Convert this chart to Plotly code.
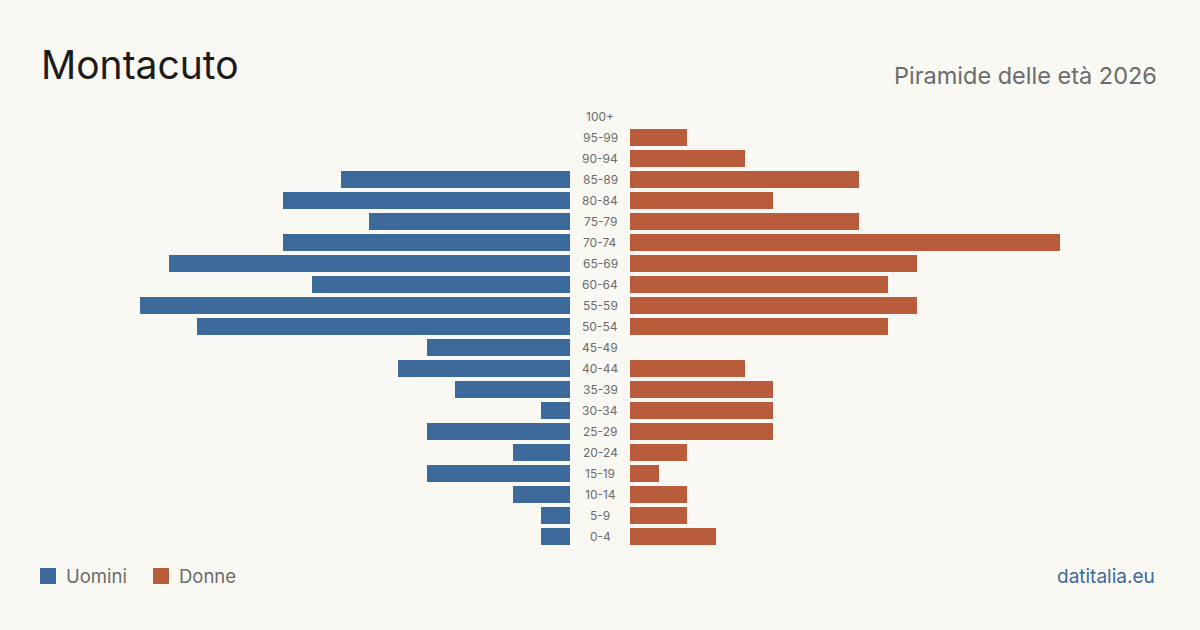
import plotly.graph_objects as go

age_groups = ["0-4", "5-9", "10-14", "15-19", "20-24", "25-29", "30-34", "35-39",
              "40-44", "45-49", "50-54", "55-59", "60-64", "65-69", "70-74",
              "75-79", "80-84", "85-89", "90-94", "95-99", "100+"]
men = [1, 1, 2, 5, 2, 5, 1, 4, 6, 5, 13, 15, 9, 14, 10, 7, 10, 8, 0, 0, 0]
women = [3, 2, 2, 1, 2, 5, 5, 5, 4, 0, 9, 10, 9, 10, 15, 8, 5, 8, 4, 2, 0]

title = "Montacuto"
subtitle = "Piramide delle età 2026"
source = "datitalia.eu"
legend_names = ["Uomini", "Donne"]

BLUE = "#3b6a9b"
ORANGE = "#b95c3c"
BG = "#faf8f3"
W, H = 1200, 630
FONT = "Inter"

fig = go.Figure()
fig.add_trace(go.Bar(y=age_groups, x=men, orientation="h", marker_color=BLUE,
                     marker_line_width=0,
                     width=0.81, xaxis="x", yaxis="y", name=legend_names[0],
                     showlegend=False, hoverinfo="x+y"))
fig.add_trace(go.Bar(y=age_groups, x=women, orientation="h", marker_color=ORANGE,
                     marker_line_width=0,
                     width=0.81, xaxis="x2", yaxis="y", name=legend_names[1],
                     showlegend=False, hoverinfo="x+y"))

ybot = 1 - 547.0 / H
ytop = 1 - 106.0 / H

annotations = []
for g in age_groups:
    annotations.append(dict(x=600 / W, y=g, xref="paper", yref="y", text=g,
                            showarrow=False, xanchor="center", yanchor="middle",
                            font=dict(family=FONT, size=12, color="#6b6b6b")))

annotations += [
    dict(x=39 / W, y=1 - 90 / H, xref="paper", yref="paper", text=title,
         showarrow=False, xanchor="left", yanchor="bottom",
         font=dict(family=FONT, size=39, color="#1c1c1c")),
    dict(x=1159 / W, y=1 - 92 / H, xref="paper", yref="paper", text=subtitle,
         showarrow=False, xanchor="right", yanchor="bottom",
         font=dict(family=FONT, size=23.5, color="#6b6b6b")),
    dict(x=64 / W, y=1 - 576 / H, xref="paper", yref="paper", text=legend_names[0],
         showarrow=False, xanchor="left", yanchor="middle",
         font=dict(family=FONT, size=18.5, color="#6b6b6b")),
    dict(x=177 / W, y=1 - 576 / H, xref="paper", yref="paper", text=legend_names[1],
         showarrow=False, xanchor="left", yanchor="middle",
         font=dict(family=FONT, size=18.5, color="#6b6b6b")),
    dict(x=1157 / W, y=1 - 576 / H, xref="paper", yref="paper", text=source,
         showarrow=False, xanchor="right", yanchor="middle",
         font=dict(family=FONT, size=19, color=BLUE)),
]

shapes = [
    dict(type="rect", xref="paper", yref="paper", x0=40 / W, x1=56 / W,
         y0=1 - 584 / H, y1=1 - 568 / H, fillcolor=BLUE, line_width=0),
    dict(type="rect", xref="paper", yref="paper", x0=153 / W, x1=169 / W,
         y0=1 - 584 / H, y1=1 - 568 / H, fillcolor=ORANGE, line_width=0),
]

fig.update_layout(
    width=W, height=H,
    margin=dict(l=0, r=0, t=0, b=0),
    paper_bgcolor=BG, plot_bgcolor=BG,
    bargap=0,
    xaxis=dict(domain=[140 / W, 570 / W], range=[15, 0], visible=False, fixedrange=True),
    xaxis2=dict(domain=[630 / W, 1060 / W], range=[0, 15], visible=False, fixedrange=True),
    yaxis=dict(domain=[ybot, ytop], range=[-0.5, 20.5], visible=False,
               categoryorder="array", categoryarray=age_groups, fixedrange=True),
    annotations=annotations,
    shapes=shapes,
    showlegend=False,
)

fig.write_html("out.html")
